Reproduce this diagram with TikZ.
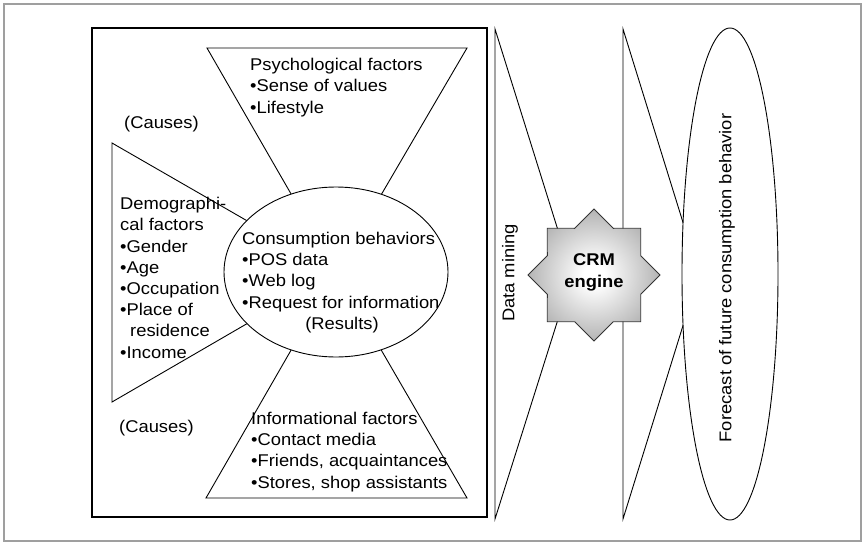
\documentclass[tikz,border=0pt]{standalone}
\usepackage{fontspec}
\setmainfont{Liberation Sans}[FakeStretch=1.08]
\usetikzlibrary{shapes.geometric}
\pgfdeclareradialshading{crmshade}{\pgfpoint{0bp}{0bp}}{color(0bp)=(white); color(4bp)=(white); color(38bp)=(gray!95); color(50bp)=(gray!90!black)}
\begin{document}
\begin{tikzpicture}[x=1pt,y=-1pt,
  txt/.style={inner sep=0pt, anchor=base west, align=left, font=\fontsize{17}{21.2}\selectfont},
  ctxt/.style={inner sep=0pt, font=\fontsize{17}{21.2}\selectfont},
  shp/.style={draw=black, line width=0.9pt},
]
\useasboundingbox (0,0) rectangle (865,544);
% page frame
\draw[gray!75, line width=1.6pt] (4,4) rectangle (861,541);
% left box
\draw[line width=1.2pt] (92,28) rectangle (487,517);
% centre of the causes/results figure
\coordinate (C) at (336,272);
\coordinate (psyA) at (207,48);
\coordinate (psyB) at (467,48);
\coordinate (infA) at (206,498);
\coordinate (infB) at (467,498);
\coordinate (demA) at (112,143);
\coordinate (demB) at (112,402);
\draw[shp] (psyA) -- (psyB) -- (C) -- cycle;
\draw[shp] (infA) -- (infB) -- (C) -- cycle;
\draw[shp] (demA) -- (C) -- (demB) -- cycle;
\node[shp, ellipse, fill=white, minimum width=224pt, minimum height=170pt, inner sep=0pt] (cons) at (C) {};
% data mining bow
\coordinate (dmT) at (495,29);
\coordinate (dmB) at (495,519);
\coordinate (dmX) at (572,275);
\draw[shp] (dmT) -- (dmX) -- (dmB) -- cycle;
% second bow
\coordinate (fcT) at (623,29);
\coordinate (fcB) at (623,519);
\coordinate (fcX) at (699,274);
\draw[shp] (fcT) -- (fcX) -- (fcB) -- cycle;
% CRM star
\coordinate (S) at (594,275);
\draw[draw=black!80, line width=0.8pt, shading=crmshade, shift={(S)}]
  (0:66) -- (22.5:50.5) -- (45:66) -- (67.5:50.5) -- (90:66) -- (112.5:50.5) -- (135:66) -- (157.5:50.5)
  -- (180:66) -- (202.5:50.5) -- (225:66) -- (247.5:50.5) -- (270:66) -- (292.5:50.5) -- (315:66) -- (337.5:50.5) -- cycle;
\node[inner sep=0pt, align=center, font=\fontsize{17}{22}\selectfont\bfseries] (crm) at (594,272) {CRM\\engine};
% forecast ellipse
\node[shp, ellipse, fill=white, minimum width=96pt, minimum height=492pt, inner sep=0pt] (fc) at (730,274) {};
\node[ctxt, rotate=90] (fctext) at (727,278) {Forecast of future consumption behavior};
\node[ctxt, rotate=90] (dm) at (510,273) {Data mining};
% texts (base anchor = baseline of the last line)
\node[txt] (psy) at (250,113) {Psychological factors\\•Sense of values\\•Lifestyle};
\node[txt] (cause1) at (124,128) {(Causes)};
\node[txt] (dem) at (120,358) {Demographi-\\cal factors\\•Gender\\•Age\\•Occupation\\•Place of\\\hspace*{10pt}residence\\•Income};
\node[txt] (constext) at (242,308) {Consumption behaviors\\•POS data\\•Web log\\•Request for information};
\node[ctxt, anchor=base] (res) at (342,329) {(Results)};
\node[txt] (cause2) at (119,432) {(Causes)};
\node[txt] (inf) at (251,488) {Informational factors\\•Contact media\\•Friends, acquaintances\\•Stores, shop assistants};
\end{tikzpicture}
\end{document}
